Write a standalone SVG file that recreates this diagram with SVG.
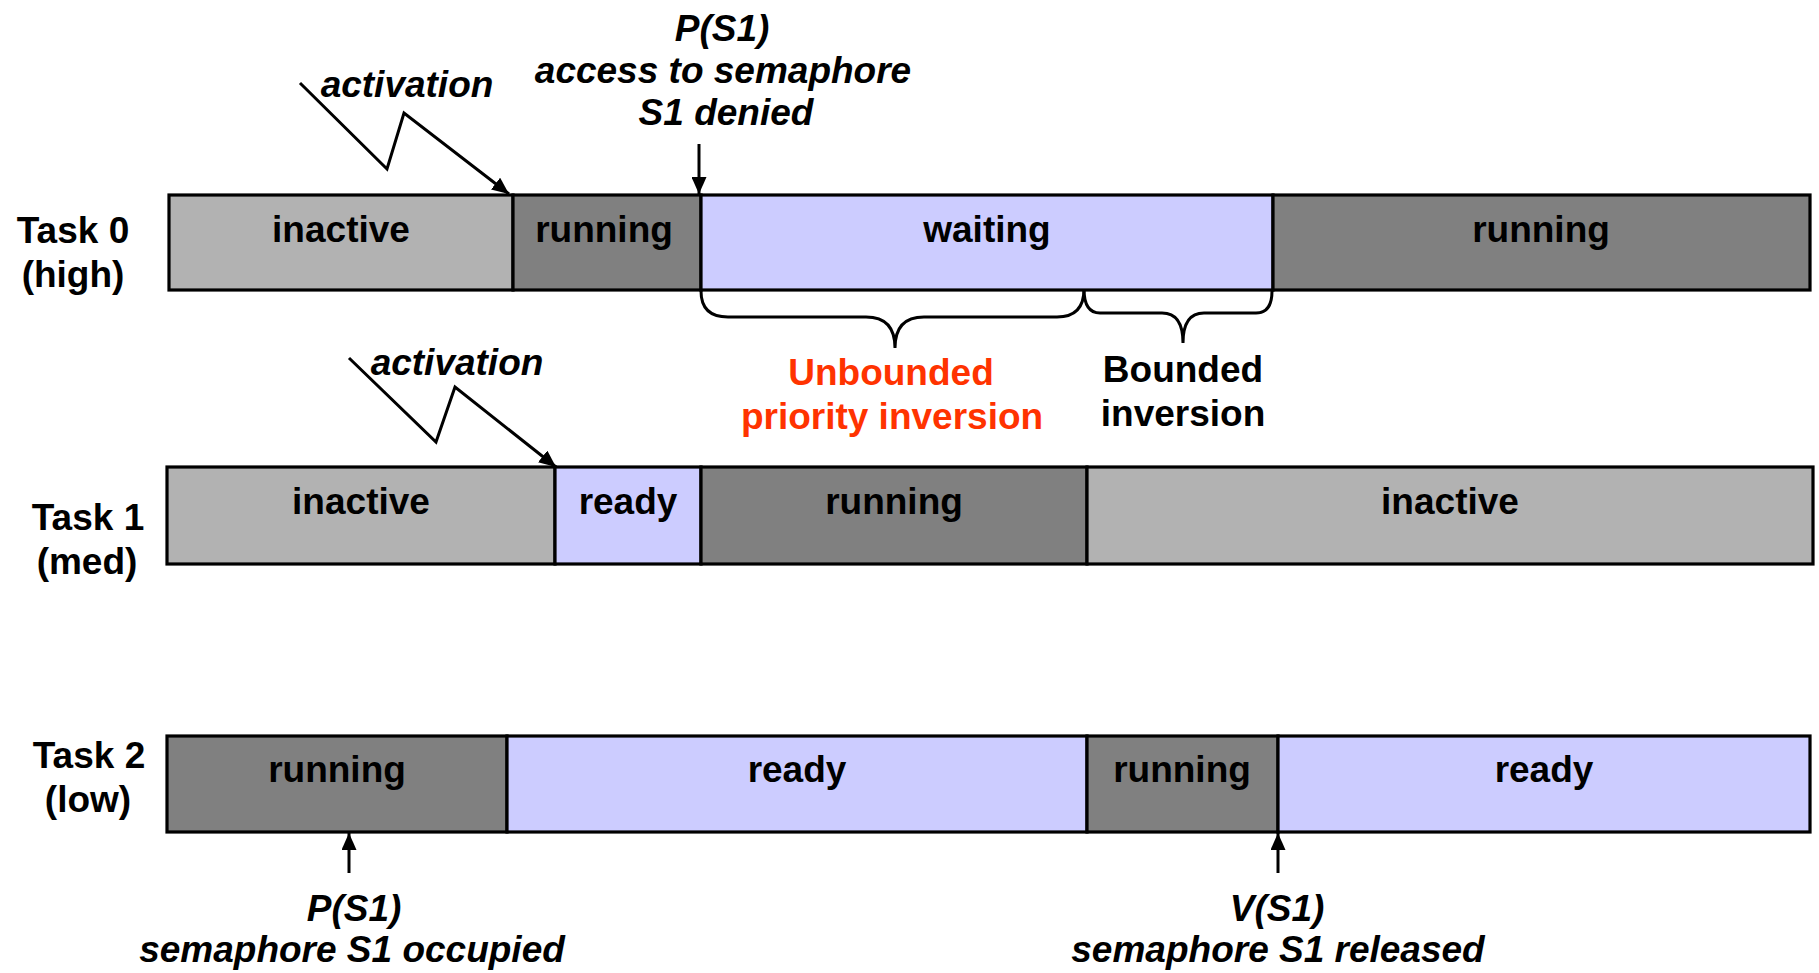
<svg xmlns="http://www.w3.org/2000/svg" width="1819" height="973" viewBox="0 0 1819 973">
<defs>
<style>
.inactive{fill:#B2B2B2;stroke:#000;stroke-width:3.2}
.running{fill:#808080;stroke:#000;stroke-width:3.2}
.ready{fill:#CCCCFF;stroke:#000;stroke-width:3.2}
.t{font-family:"Liberation Sans",Arial,sans-serif;font-weight:bold;font-size:37px;fill:#000;text-anchor:middle}
.i{font-style:italic}
.red{fill:#FF3300}
.ln{fill:none;stroke:#000;stroke-width:3}
.br{fill:none;stroke:#000;stroke-width:3}
</style>
<marker id="ah" markerUnits="userSpaceOnUse" markerWidth="17" markerHeight="15" refX="17" refY="7.5" orient="auto">
<path d="M0,0 L17,7.5 L0,15 z" fill="#000"/>
</marker>
</defs>
<rect width="1819" height="973" fill="#fff"/>

<g id="task0">
<rect class="inactive" x="169" y="195" width="344" height="95"/>
<rect class="running" x="513" y="195" width="188" height="95"/>
<rect class="ready" x="701" y="195" width="572" height="95"/>
<rect class="running" x="1273" y="195" width="537" height="95"/>
<text class="t" x="341" y="242">inactive</text>
<text class="t" x="604" y="242">running</text>
<text class="t" x="987" y="242">waiting</text>
<text class="t" x="1541" y="242">running</text>
<text class="t" x="73" y="243">Task 0</text>
<text class="t" x="73" y="287">(high)</text>
</g>

<g id="task1">
<rect class="inactive" x="167" y="467" width="388" height="97"/>
<rect class="ready" x="555" y="467" width="146" height="97"/>
<rect class="running" x="701" y="467" width="386" height="97"/>
<rect class="inactive" x="1087" y="467" width="726" height="97"/>
<text class="t" x="361" y="514">inactive</text>
<text class="t" x="628" y="514">ready</text>
<text class="t" x="894" y="514">running</text>
<text class="t" x="1450" y="514">inactive</text>
<text class="t" x="88" y="530">Task 1</text>
<text class="t" x="87" y="574">(med)</text>
</g>

<g id="task2">
<rect class="running" x="167" y="736" width="340" height="96"/>
<rect class="ready" x="507" y="736" width="580" height="96"/>
<rect class="running" x="1087" y="736" width="191" height="96"/>
<rect class="ready" x="1278" y="736" width="532" height="96"/>
<text class="t" x="337" y="782">running</text>
<text class="t" x="797" y="782">ready</text>
<text class="t" x="1182" y="782">running</text>
<text class="t" x="1544" y="782">ready</text>
<text class="t" x="89" y="768">Task 2</text>
<text class="t" x="88" y="812">(low)</text>
</g>

<g id="labels">
<text class="t i" x="407" y="97">activation</text>
<text class="t i" x="457" y="375">activation</text>
<text class="t i" x="722" y="41">P(S1)</text>
<text class="t i" x="723" y="83">access to semaphore</text>
<text class="t i" x="726" y="125">S1 denied</text>
<text class="t i" x="354" y="921">P(S1)</text>
<text class="t i" x="352" y="962">semaphore S1 occupied</text>
<text class="t i" x="1277" y="921">V(S1)</text>
<text class="t i" x="1278" y="962">semaphore S1 released</text>
<text class="t red" x="891" y="385">Unbounded</text>
<text class="t red" x="892" y="429">priority inversion</text>
<text class="t" x="1183" y="382">Bounded</text>
<text class="t" x="1183" y="426">inversion</text>
</g>

<g id="connectors">
<polyline class="ln" points="300,83 387,169 404,113 509,194" marker-end="url(#ah)"/>
<polyline class="ln" points="349,358 436,442 455,387 556,467" marker-end="url(#ah)"/>
<line class="ln" x1="699" y1="144" x2="699" y2="194" marker-end="url(#ah)"/>
<line class="ln" x1="349" y1="873" x2="349" y2="833" marker-end="url(#ah)"/>
<line class="ln" x1="1278" y1="873" x2="1278" y2="833" marker-end="url(#ah)"/>
<path class="br" d="M701,291 Q701,317 728,317 L866,317 Q895,317 895,348 Q895,317 924,317 L1057,317 Q1084,317 1084,289"/>
<path class="br" d="M1084,289 Q1084,313 1100,313 L1162,313 Q1183,313 1183,343 Q1183,313 1204,313 L1256,313 Q1272,313 1272,291"/>
</g>
</svg>
